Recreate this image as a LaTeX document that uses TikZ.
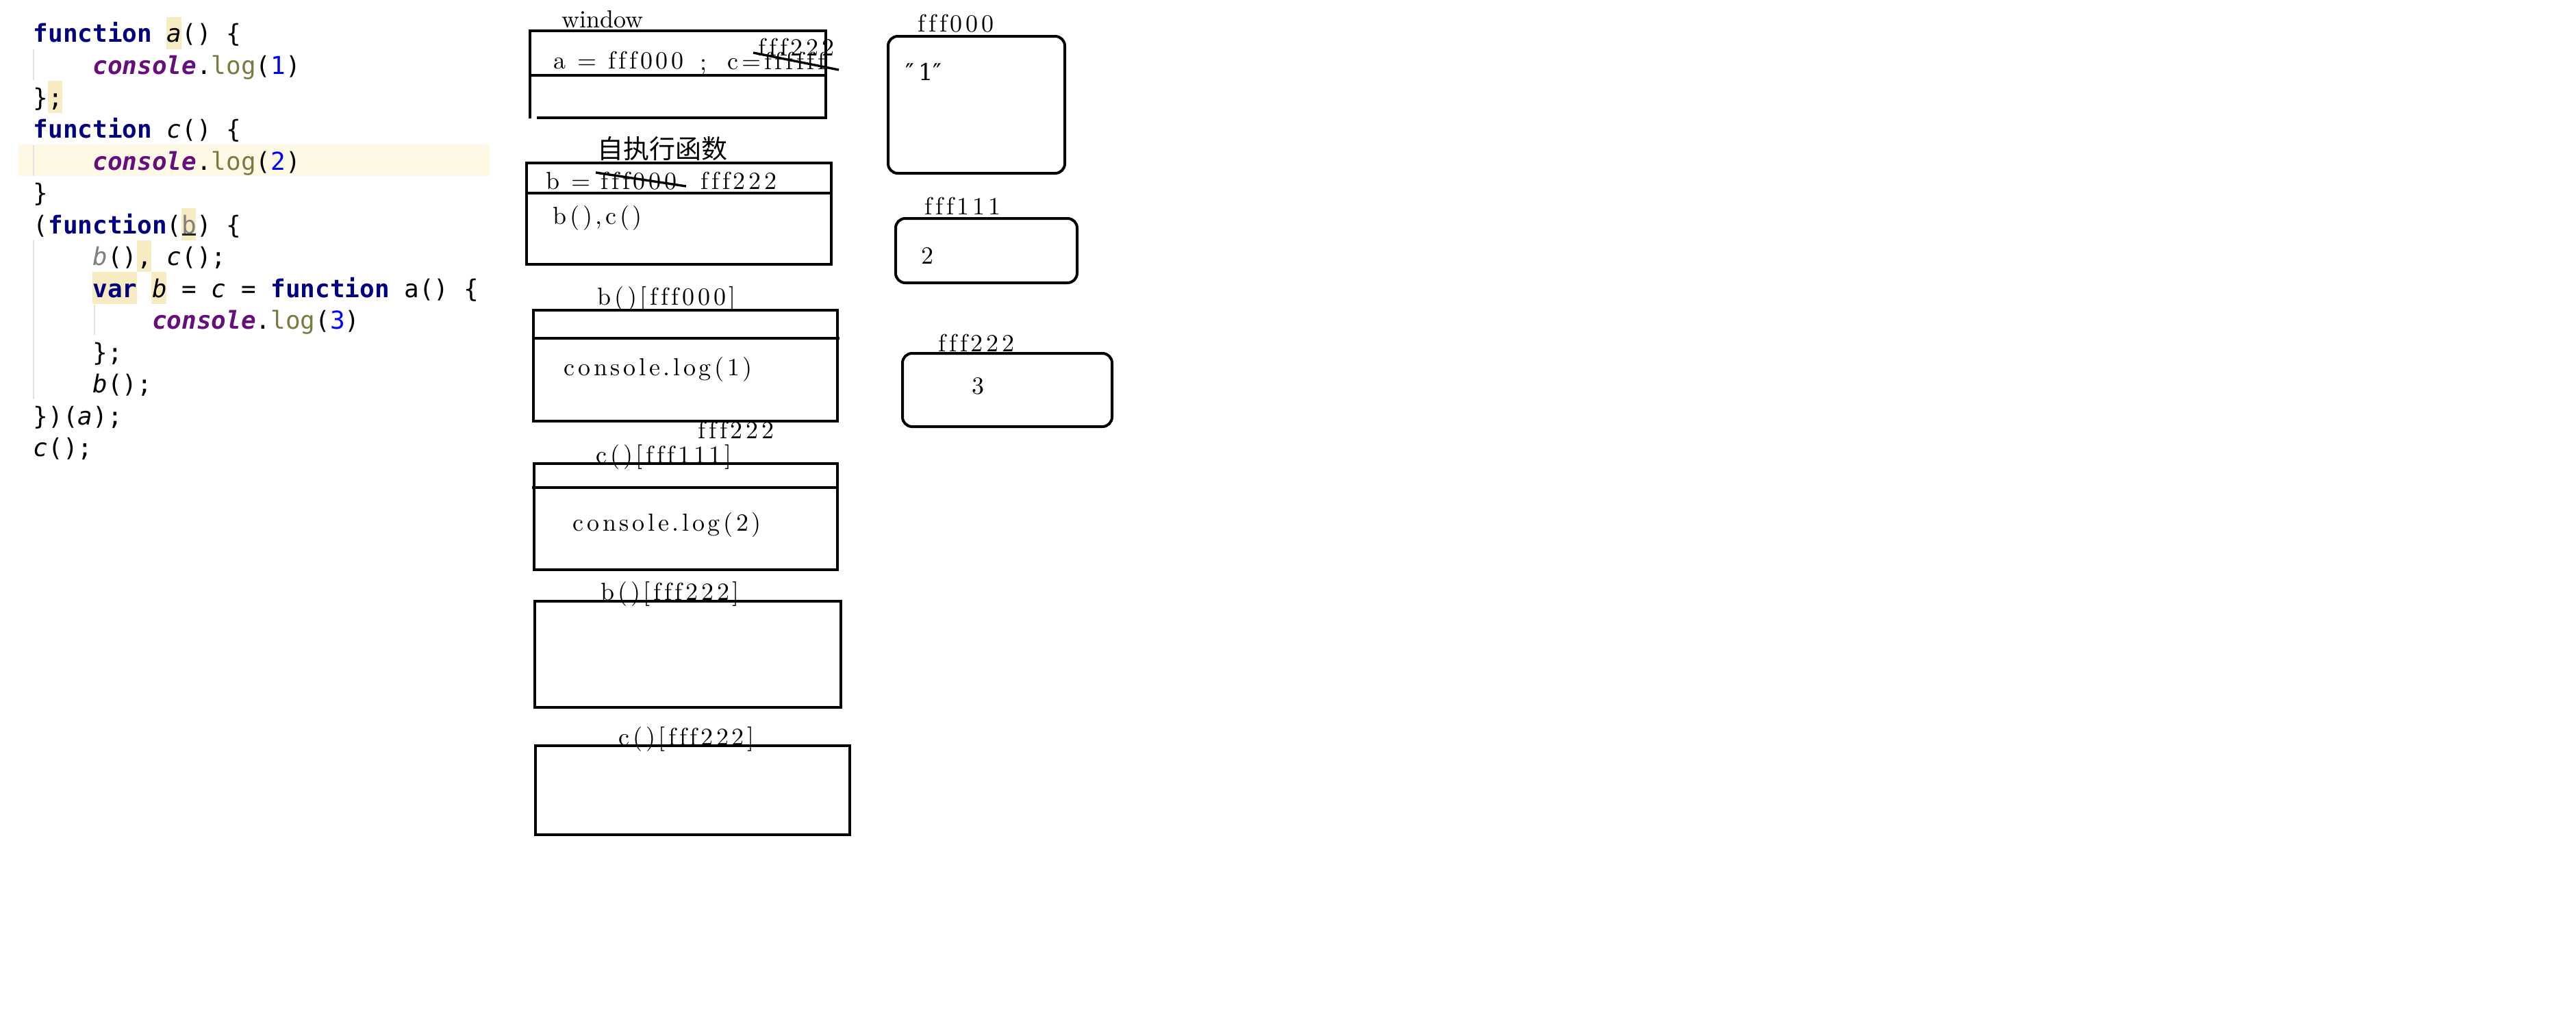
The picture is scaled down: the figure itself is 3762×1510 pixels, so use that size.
\documentclass[tikz,border=0pt]{standalone}
\usepackage{fontspec}
\newfontfamily\cjkfont{Noto Sans CJK SC}
\newfontfamily\codefont{DejaVu Sans Mono}
\newfontfamily\primefont{DejaVu Serif}
\newfontfamily\lblfont{lmroman10-regular}[Extension=.otf,LetterSpace=13,Ligatures={NoCommon}]
\newfontfamily\winfont{lmroman10-regular}[Extension=.otf]
\definecolor{kwc}{HTML}{000080}
\definecolor{conc}{HTML}{660E7A}
\definecolor{logc}{HTML}{7A7A43}
\definecolor{numc}{HTML}{0000FF}
\definecolor{parc}{HTML}{808080}
\definecolor{hlc}{HTML}{F6EBC1}
\definecolor{curc}{HTML}{FEF9E5}
\definecolor{guidec}{HTML}{E3E3E3}
\newcommand\jsKw[1]{{\bfseries\color{kwc}#1}}
\newcommand\jsCon[1]{{\bfseries\itshape\color{conc}#1}}
\newcommand\jsLog[1]{{\color{logc}#1}}
\newcommand\jsNum[1]{{\color{numc}#1}}
\newcommand\jsIt[1]{{\itshape #1}}
\newcommand\jsPar[1]{{\color{parc}#1}}
\newcommand\jsParIt[1]{{\itshape\color{parc}#1}}
\begin{document}
\begin{tikzpicture}[x=0.25pt,y=-0.25pt,
  code/.style={anchor=base west,inner sep=0pt,font=\codefont\fontsize{9pt}{11pt}\selectfont\frenchspacing},
  lbl/.style={anchor=base west,inner sep=0pt,font=\lblfont\fontsize{9pt}{11pt}\selectfont\frenchspacing},
  winlabel/.style={anchor=base west,inner sep=0pt,font=\winfont\fontsize{9pt}{11pt}\selectfont},
  cjk/.style={anchor=base west,inner sep=0pt,font=\cjkfont\fontsize{9.5pt}{11pt}\selectfont},
  frame/.style={draw,line width=1pt},
  rframe/.style={draw,line width=1pt,rounded corners=3.5pt},
  strike/.style={draw,line width=0.85pt},
  guide/.style={draw=guidec,line width=0.5pt}]
\useasboundingbox[fill=white] (0,0) rectangle (3762,1510);

% ---------- code panel ----------
\fill[curc] (27,211) rectangle (715,257);
\fill[hlc] (243,25) rectangle (264.7,71.5);
\fill[hlc] (69.7,118) rectangle (91.4,164.5);
\fill[hlc] (264.7,304) rectangle (286.4,350.5);
\fill[hlc] (199.7,350.5) rectangle (221.4,397);
\fill[hlc] (134.7,397) rectangle (199.7,443.5);
\fill[hlc] (221.4,397) rectangle (243,443.5);
\draw[guide] (49,72) -- (49,117);
\draw[guide] (49,212) -- (49,257);
\draw[guide] (49,351) -- (49,583);
\draw[guide] (138,445) -- (138,489);

\node[code] (l1) at (48,62) {\jsKw{function} \jsIt{a}() \{};
\node[code] (l2) at (134.7,108.5) {\jsCon{console}.\jsLog{log}(\jsNum{1})};
\node[code] (l3) at (48,155) {\};};
\node[code] (l4) at (48,201.5) {\jsKw{function} \jsIt{c}() \{};
\node[code] (l5) at (134.7,248) {\jsCon{console}.\jsLog{log}(\jsNum{2})};
\node[code] (l6) at (48,294.5) {\}};
\node[code] (l7) at (48,341) {(\jsKw{function}(\jsPar{b}) \{};
\draw[line width=0.6pt,black!85] (266,342.5) -- (285.5,342.5);
\node[code] (l8) at (134.7,387.5) {\jsParIt{b}(), \jsIt{c}();};
\node[code] (l9) at (134.7,434) {\jsKw{var} \jsIt{b} = \jsIt{c} = \jsKw{function} a() \{};
\node[code] (l10) at (221.4,480.5) {\jsCon{console}.\jsLog{log}(\jsNum{3})};
\node[code] (l11) at (134.7,527) {\};};
\node[code] (l12) at (134.7,573.5) {\jsIt{b}();};
\node[code] (l13) at (48,620) {\})(\jsIt{a});};
\node[code] (l14) at (48,666.5) {\jsIt{c}();};

% ---------- window ----------
\node[winlabel] (winlbl) at (820,40) {window};
\draw[frame] (774,173) -- (774,45) -- (1206,45) -- (1206,172) -- (784,172);
\draw[frame] (774,110) -- (1206,110);
\node[lbl] (wa) at (808,100) {a = fff000};
\node[lbl] (wsemi) at (1022,102) {;};
\node[lbl] (wc) at (1062,101) {c=ffffff};
\node[lbl] (wnew) at (1107,81) {fff222};
\coordinate (ws1) at (1100,77);
\coordinate (ws2) at (1225,102);
\draw[strike] (ws1) -- (ws2);

% ---------- self executing function ----------
\node[cjk] (selflbl) at (872,231) {自执行函数};
\draw[frame] (769,238) rectangle (1214,386);
\draw[frame] (769,282) -- (1214,282);
\node[lbl] (sb) at (797,276) {b =};
\node[lbl] (sold) at (877,276) {fff000};
\node[lbl] (snew) at (1023,276) {fff222};
\coordinate (ss1) at (870,252);
\coordinate (ss2) at (1002,272);
\draw[strike] (ss1) -- (ss2);
\node[lbl] (scall) at (807,327) {b(),c()};

% ---------- b()[fff000] ----------
\node[lbl] (b0lbl) at (872,445) {b()[fff000]};
\draw[frame] (779,453) rectangle (1223,615);
\draw[frame] (779,494) -- (1226,494);
\node[lbl] (b0body) at (823,548) {console.log(1)};
\node[lbl] (c1extra) at (1019,640) {fff222};

% ---------- c()[fff111] ----------
\node[lbl] (c1lbl) at (870,676) {c()[fff111]};
\draw[frame] (780,677) rectangle (1223,832);
\draw[frame] (777,712) -- (1223,712);
\node[lbl] (c1body) at (836,775) {console.log(2)};

% ---------- b()[fff222] ----------
\node[lbl] (b2lbl) at (877,876) {b()[fff222]};
\draw[frame] (781,878) rectangle (1228,1033);

% ---------- c()[fff222] ----------
\node[lbl] (c2lbl) at (903,1088) {c()[fff222]};
\draw[frame] (782,1089) rectangle (1241,1219);

% ---------- heap ----------
\node[lbl] (h0lbl) at (1340,47) {fff000};
\draw[rframe] (1297,53) rectangle (1555,253);
\node[anchor=base west,inner sep=0pt,font=\primefont\fontsize{8.5pt}{10pt}\selectfont] (h0val) at (1322,117) {″\,1″};

\node[lbl] (h1lbl) at (1350,313) {fff111};
\draw[rframe] (1308,319) rectangle (1573,413);
\node[lbl] (h1val) at (1345,385) {2};

\node[lbl] (h2lbl) at (1370,513) {fff222};
\draw[rframe] (1318,516) rectangle (1624,623);
\node[lbl] (h2val) at (1419,575) {3};
\end{tikzpicture}
\end{document}
